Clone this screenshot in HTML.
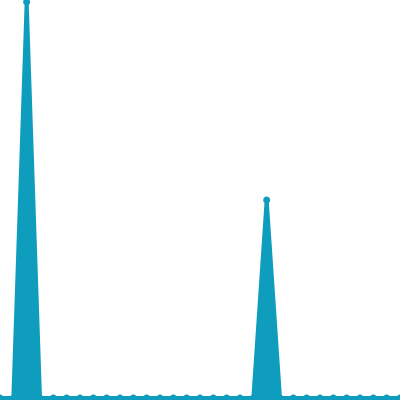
<!DOCTYPE html>
<html><head><style>html,body{margin:0;padding:0;background:#fff;width:400px;height:400px;overflow:hidden}</style></head>
<body>
<svg id="chart" width="400" height="400" xmlns="http://www.w3.org/2000/svg"></svg>
<script>
const categories = Array.from({length:31},(_,i)=>i);
const values = [0,0,100,0,0,0,0,0,0,0,0,0,0,0,0,0,0,0,0,0,50,0,0,0,0,0,0,0,0,0,0];
const yMax = 100;
const svg = document.getElementById('chart');
const NS = 'http://www.w3.org/2000/svg';
const x = i => i * 400 / (categories.length - 1);
const y = v => 398 - v / yMax * 396;
const color = '#0e9dbd';
let d = `M${x(0)},${y(0)}`;
values.forEach((v,i)=>{ d += ` L${x(i)},${y(v)}`; });
const area = document.createElementNS(NS,'path');
area.setAttribute('d', d + ` L${x(values.length-1)},400 L0,400 Z`);
area.setAttribute('fill', color);


svg.appendChild(area);
const line = document.createElementNS(NS,'path');
line.setAttribute('d', d);
line.setAttribute('fill','none');
line.setAttribute('stroke', color);
line.setAttribute('stroke-width','4');
line.setAttribute('stroke-linejoin','round');


svg.appendChild(line);
values.forEach((v,i)=>{
  const c = document.createElementNS(NS,'circle');
  c.setAttribute('cx', x(i));
  c.setAttribute('cy', y(v));
  c.setAttribute('r', 3.5);
  c.setAttribute('fill', color);
  
  
  svg.appendChild(c);
});
</script>
</body></html>
